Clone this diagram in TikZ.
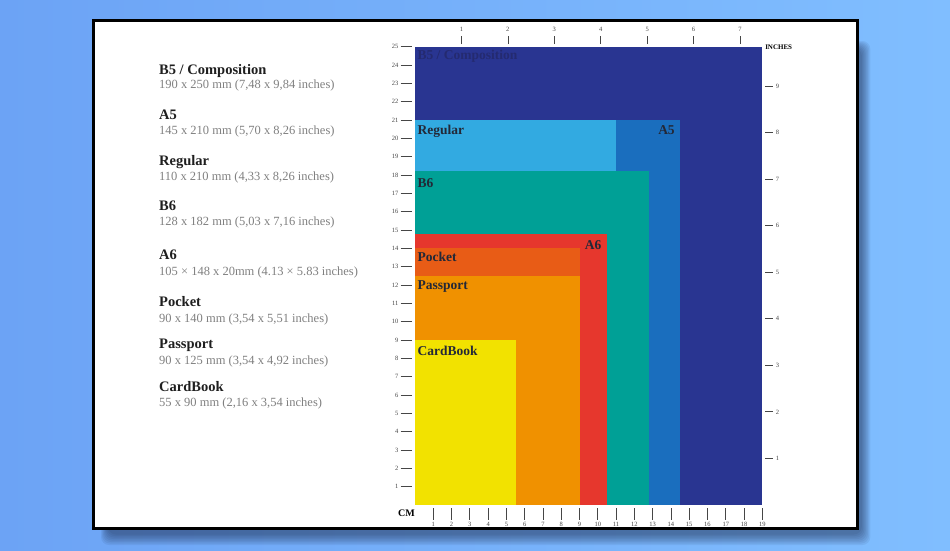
\documentclass[tikz,border=0pt]{standalone}
\usepackage{fontspec}
\setmainfont{Liberation Serif}
\usepackage{tikz}
\usetikzlibrary{positioning}

\definecolor{bgleft}{RGB}{108,163,245}
\definecolor{bgright}{RGB}{128,190,255}
\definecolor{shadowblue}{RGB}{20,30,60}
\definecolor{tickgray}{RGB}{70,70,70}
\definecolor{specgray}{RGB}{128,128,128}
\definecolor{labeldark}{RGB}{35,40,55}
\definecolor{b5label}{RGB}{36,42,112}
\definecolor{b5blue}{RGB}{41,53,145}
\definecolor{a5blue}{RGB}{26,110,190}
\definecolor{regblue}{RGB}{50,170,225}
\definecolor{b6teal}{RGB}{0,160,150}
\definecolor{a6red}{RGB}{230,55,45}
\definecolor{pocketorange}{RGB}{232,92,22}
\definecolor{passorange}{RGB}{240,145,0}
\definecolor{cardyellow}{RGB}{242,226,0}

\begin{document}
\begin{tikzpicture}[x=1pt, y=-1pt,
  tick/.style={line width=0.9pt, draw=tickgray},
  rulernum/.style={font=\fontsize{6.5}{7}\selectfont, text=tickgray, inner sep=0pt},
  sizename/.style={font=\bfseries\fontsize{14.5}{16}\selectfont, text=black!88, anchor=base west, inner sep=0pt},
  sizespec/.style={font=\fontsize{12.5}{14}\selectfont, text=specgray, anchor=base west, inner sep=0pt},
  boxlabel/.style={font=\bfseries\fontsize{13.5}{15}\selectfont, text=labeldark, inner sep=0pt}]

\useasboundingbox (0,0) rectangle (950,550);

% Background
\shade[left color=bgleft, right color=bgright] (0,0) rectangle (950,550);

% Card with soft shadow
\foreach \d in {1,...,8}
  \fill[shadowblue, opacity=0.07, rounded corners=8pt]
    (100+\d,40+\d) rectangle (857.5+14-\d*1.2,528.5+18-\d*1.5);
\draw[line width=3pt, fill=white] (93.5,20.5) rectangle (857.5,528.5);

% Size list
\node[sizename] (b5name) at (159,74) {B5 / Composition};
\node[sizespec] (b5spec) at (159,88) {190 x 250 mm (7,48 x 9,84 inches)};
\node[sizename] (a5name) at (159,119) {A5};
\node[sizespec] (a5spec) at (159,134) {145 x 210 mm (5,70 x 8,26 inches)};
\node[sizename] (regname) at (159,165) {Regular};
\node[sizespec] (regspec) at (159,180) {110 x 210 mm (4,33 x 8,26 inches)};
\node[sizename] (b6name) at (159,210) {B6};
\node[sizespec] (b6spec) at (159,225.5) {128 x 182 mm (5,03 x 7,16 inches)};
\node[sizename] (a6name) at (159,259.5) {A6};
\node[sizespec] (a6spec) at (159,275.5) {105 × 148 x 20mm (4.13 × 5.83 inches)};
\node[sizename] (pocketname) at (159,306) {Pocket};
\node[sizespec] (pocketspec) at (159,322) {90 x 140 mm (3,54 x 5,51 inches)};
\node[sizename] (passname) at (159,348.5) {Passport};
\node[sizespec] (passspec) at (159,364) {90 x 125 mm (3,54 x 4,92 inches)};
\node[sizename] (cardname) at (159,391) {CardBook};
\node[sizespec] (cardspec) at (159,406) {55 x 90 mm (2,16 x 3,54 inches)};

% Chart, 1 unit = 1 cm
\begin{scope}[shift={(415,505)}, x=18.28pt, y=18.33pt]

% Paper sizes, largest first
\fill[b5blue] (0,0) rectangle (19,25);
\fill[a5blue] (0,0) rectangle (14.5,21);
\fill[regblue] (0,0) rectangle (11,21);
\fill[b6teal] (0,0) rectangle (12.8,18.2);
\fill[a6red] (0,0) rectangle (10.5,14.8);
\fill[pocketorange] (0,0) rectangle (9,14);
\fill[passorange] (0,0) rectangle (9,12.5);
\fill[cardyellow] (0,0) rectangle (5.5,9);

% Labels
\node[boxlabel, anchor=base west, text=b5label] (b5lab) at (0.13,24.28) {B5 / Composition};
\node[boxlabel, anchor=base east] (a5lab) at (14.22,20.24) {A5};
\node[boxlabel, anchor=base west] (reglab) at (0.13,20.19) {Regular};
\node[boxlabel, anchor=base west] (b6lab) at (0.13,17.31) {B6};
\node[boxlabel, anchor=base east] (a6lab) at (10.21,13.95) {A6};
\node[boxlabel, anchor=base west] (pocketlab) at (0.13,13.27) {Pocket};
\node[boxlabel, anchor=base west] (passlab) at (0.13,11.77) {Passport};
\node[boxlabel, anchor=base west] (cardlab) at (0.13,8.15) {CardBook};

% cm ruler, left
\foreach \i in {1,...,25} {
  \draw[tick] (-0.78,\i) -- (-0.18,\i);
  \node[rulernum, anchor=east] (cml\i) at (-0.9,\i) {\i};
}
% cm ruler, bottom
\foreach \i in {1,...,19} {
  \draw[tick, line width=0.7pt] (\i,-0.18) -- (\i,-0.82);
  \node[rulernum] (cmb\i) at (\i,-1.04) {\i};
}
\node[font=\bfseries\fontsize{10}{11}\selectfont, inner sep=0pt] (cmlab) at (-0.47,-0.44) {CM};

% inch ruler, top
\foreach \i in {1,...,7} {
  \draw[tick, line width=0.7pt] (2.54*\i,25.15) -- (2.54*\i,25.6);
  \node[rulernum] (int\i) at (2.54*\i,25.96) {\i};
}
% inch ruler, right
\foreach \i in {1,...,9} {
  \draw[tick] (19.15,2.54*\i) -- (19.6,2.54*\i);
  \node[rulernum, anchor=west] (inr\i) at (19.73,2.54*\i) {\i};
}
\node[font=\bfseries\fontsize{7}{8}\selectfont, anchor=west, inner sep=0pt] (inlab) at (19.15,25) {INCHES};

\end{scope}

\end{tikzpicture}
\end{document}
